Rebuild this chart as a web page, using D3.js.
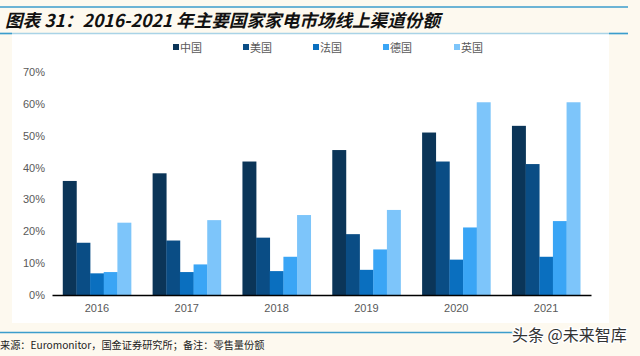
<!DOCTYPE html>
<html><head><meta charset="utf-8">
<script src="https://cdn.jsdelivr.net/npm/d3@7"></script>
<style>
html,body{margin:0;padding:0;background:#fdf9ef;}
svg{display:block;}
</style></head>
<body>
<svg id="c" width="640" height="356"></svg>
<script>
const years = ["2016","2017","2018","2019","2020","2021"];
const seriesNames = ["中国","美国","法国","德国","英国"];
const seriesColors = ["#0b3558","#0a4d85","#0a6fbf","#3aa5f5","#7dc5fa"];
const china   = [35.8, 38.2, 41.9, 45.5, 51.0, 53.1];
const usa     = [16.4, 17.1, 18.0, 19.1, 41.9, 41.1];
const france  = [6.8, 7.2, 7.5, 7.9, 11.1, 12.0];
const germany = [7.2, 9.6, 12.0, 14.3, 21.2, 23.2];
const uk      = [22.7, 23.5, 25.1, 26.7, 60.5, 60.5];
const yTicks = [0,10,20,30,40,50,60,70];
const titleText = "图表 31：2016-2021 年主要国家家电市场线上渠道份额";
const sourceText = "来源：Euromonitor，国金证券研究所；备注：零售量份额";
const watermark = "头条 @未来智库";

const seriesValues = [china, usa, france, germany, uk];
const svg = d3.select("#c");

// background panels
svg.append("rect").attr("x",0).attr("y",0).attr("width",640).attr("height",356).attr("fill","#fdf9ef");
svg.append("rect").attr("x",12).attr("y",34).attr("width",597).attr("height",289).attr("fill","#ffffff");

// title lines
svg.append("line").attr("x1",0).attr("x2",628).attr("y1",7).attr("y2",7).attr("stroke","#3b9dcc").attr("stroke-width",1.5);
svg.append("line").attr("x1",0).attr("x2",628).attr("y1",33.5).attr("y2",33.5).attr("stroke","#a9d3e6").attr("stroke-width",1.5);
svg.append("line").attr("x1",0).attr("x2",12).attr("y1",33.5).attr("y2",33.5).attr("stroke","#3b9dcc").attr("stroke-width",1.5);
svg.append("line").attr("x1",609).attr("x2",628).attr("y1",33.5).attr("y2",33.5).attr("stroke","#3b9dcc").attr("stroke-width",1.5);

svg.append("text").attr("x",5).attr("y",27).text(titleText)
  .attr("font-family","'Noto Sans CJK SC', sans-serif").attr("font-size",17.6).attr("font-weight","bold")
  .attr("font-style","italic").attr("fill","#111");

// scales
const x0 = d3.scaleBand().domain(years).range([52,591]).paddingInner(0.24).paddingOuter(0.12);
const x1 = d3.scaleBand().domain(seriesNames).range([0,x0.bandwidth()]);
const y = d3.scaleLinear().domain([0,70]).range([295,72]);

// y axis
const yAxis = svg.append("g").attr("transform","translate(45,0)")
  .call(d3.axisLeft(y).tickValues(yTicks).tickFormat(d=>d+"%").tickSize(0).tickPadding(0));
yAxis.select(".domain").remove();
yAxis.selectAll("text").attr("font-family","Arial, 'Liberation Sans', sans-serif").attr("font-size",11).attr("fill","#595959");

// bars
const groups = svg.append("g").selectAll("g").data(years).join("g")
  .attr("transform",d=>`translate(${x0(d)},0)`);
groups.selectAll("rect").data((d,i)=>seriesNames.map((s,j)=>({s, v: seriesValues[j][i], c: seriesColors[j]})))
  .join("rect")
  .attr("x",d=>x1(d.s)).attr("width",x1.bandwidth()+0.3)
  .attr("y",d=>y(d.v)).attr("height",d=>y(0)-y(d.v)).attr("fill",d=>d.c);

// x axis
const xAxis = svg.append("g").attr("transform","translate(0,295)")
  .call(d3.axisBottom(x0).tickSize(0).tickPadding(9));
xAxis.select(".domain").attr("stroke","#000").attr("stroke-width",1.5);
xAxis.selectAll("text").attr("font-family","Arial, 'Liberation Sans', sans-serif").attr("font-size",11).attr("fill","#595959");

// legend
const legendX = [173,243,313,383,454];
const lg = svg.append("g").selectAll("g").data(seriesNames).join("g")
  .attr("transform",(d,i)=>`translate(${legendX[i]},48)`);
lg.append("rect").attr("x",0).attr("y",-4).attr("width",6).attr("height",6).attr("fill",(d,i)=>seriesColors[i]);
lg.append("text").attr("x",7).attr("y",3.5).text(d=>d)
  .attr("font-family","'Noto Sans CJK SC', sans-serif").attr("font-size",11).attr("fill","#595959");

// bottom line & source
svg.append("line").attr("x1",0).attr("x2",515).attr("y1",332.5).attr("y2",332.5).attr("stroke","#3b9dcc").attr("stroke-width",1.5);
svg.append("text").attr("x",0).attr("y",349).text(sourceText)
  .attr("font-family","'Noto Sans CJK SC', 'DejaVu Sans Mono', monospace").attr("font-size",10.2).attr("fill","#222");
svg.append("text").attr("x",512).attr("y",341).text(watermark)
  .attr("font-family","'Noto Sans CJK SC', sans-serif").attr("font-size",16).attr("fill","#333")
  .attr("stroke","#fff").attr("stroke-width",2.5).attr("paint-order","stroke");
</script>
</body></html>
